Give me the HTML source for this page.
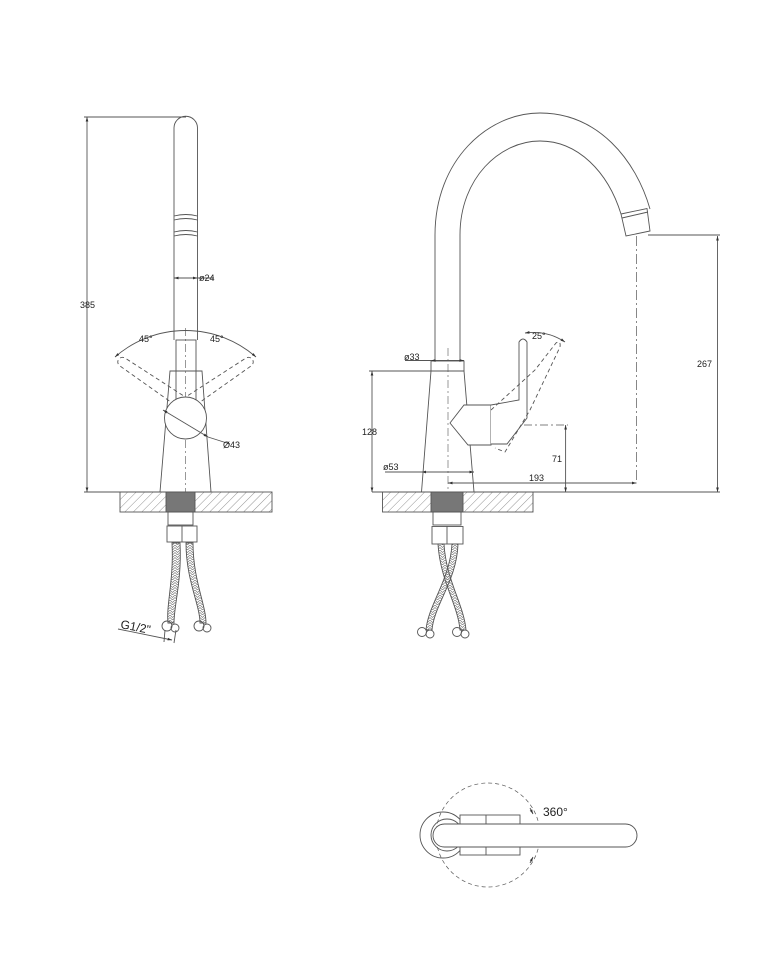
<!DOCTYPE html>
<html><head><meta charset="utf-8"><style>
html,body{margin:0;padding:0;background:#fff}
svg{display:block}
text{font-family:"Liberation Sans",sans-serif;fill:#222}
</style></head><body>
<svg width="773" height="960" viewBox="0 0 773 960" xmlns="http://www.w3.org/2000/svg">
<defs>
<pattern id="h" width="6" height="6" patternUnits="userSpaceOnUse" patternTransform="rotate(45)">
<line x1="0" y1="0" x2="0" y2="6" stroke="#777" stroke-width="0.8"/></pattern>
<pattern id="br" width="5" height="5" patternUnits="userSpaceOnUse">
<path d="M0,0 L2.5,2.5 L5,0 M0,2.5 L2.5,5 L5,2.5" stroke="#666" fill="none" stroke-width="0.6"/></pattern>
<marker id="a" viewBox="0 0 10 10" refX="10" refY="5" markerWidth="5" markerHeight="5" orient="auto-start-reverse"><path d="M0,2 L10,5 L0,8z" fill="#333"/></marker>
</defs>
<g fill="none" stroke="#555" stroke-width="0.9">
<!-- LEFT VIEW -->
<line x1="87" y1="117" x2="87" y2="492" marker-start="url(#a)" marker-end="url(#a)"/>
<line x1="84" y1="117" x2="186" y2="117"/>
<line x1="84" y1="492" x2="160" y2="492"/>
<path d="M174,340 L174,128 A11.75,11.75 0 0 1 197.5,128 L197.5,340"/>
<path d="M174,216 Q186,213 197.5,216 M174,220 Q186,217 197.5,220 M174,232 Q186,229 197.5,232 M174,236 Q186,233 197.5,236"/>
<line x1="174" y1="278" x2="197.5" y2="278" marker-start="url(#a)" marker-end="url(#a)"/>
<line x1="197.5" y1="278" x2="214" y2="278"/>
<path d="M115,357 A107,107 0 0 1 256,357" marker-start="url(#a)" marker-end="url(#a)"/>
<line x1="185.5" y1="328" x2="185.5" y2="500" stroke-dasharray="8,3,2,3" stroke-width="0.6"/>
<path d="M170,371 L202,371 L211,492 L160,492 Z"/>
<rect x="176" y="340" width="20" height="75"/>
<g stroke-dasharray="4,3">
<path d="M175,405 L120,366 A4,4 0 0 1 125,358 L190,400"/>
<path d="M196,405 L251,366 A4,4 0 0 0 246,358 L181,400"/>
</g>
<circle cx="185.5" cy="418" r="21" fill="#fff"/>
<line x1="163" y1="410" x2="208" y2="437" marker-start="url(#a)" marker-end="url(#a)"/>
<line x1="208" y1="437" x2="230" y2="444"/>
<rect x="120" y="492" width="152" height="20" fill="url(#h)"/>
<rect x="166" y="492" width="29" height="20" fill="#777"/>
<rect x="168" y="512" width="25" height="13"/>
<rect x="167" y="526" width="30" height="16"/>
<line x1="182" y1="526" x2="182" y2="542"/>
<path d="M172,543 C174,580 166,605 168,623 L174,623 C174,605 182,580 180,543Z" fill="url(#br)"/>
<path d="M186,543 C186,580 200,605 200,623 L206,623 C206,605 193,580 193,543Z" fill="url(#br)"/>
<circle cx="167" cy="626" r="5"/><circle cx="175" cy="628" r="4"/>
<circle cx="199" cy="626" r="5"/><circle cx="207" cy="628" r="4"/>
<line x1="118" y1="629" x2="172" y2="640" marker-end="url(#a)"/>
<line x1="165" y1="630" x2="164" y2="642"/><line x1="176" y1="630" x2="174" y2="643"/>
<!-- RIGHT VIEW -->
<path d="M435,361 L435,235 C435,160 488,113 540,113 C598,113 636,160 650,209"/>
<path d="M460,361 L460,235 C460,178 500,141 540,141 C578,141 608,172 621,214"/>
<path d="M621,214 L647,208.5 L650,231 L626,236 Z"/>
<line x1="622" y1="218" x2="648" y2="212"/>
<line x1="636.5" y1="236" x2="636.5" y2="483" stroke-dasharray="10,3,2,3" stroke-width="0.7"/>
<line x1="648" y1="235" x2="720" y2="235"/>
<line x1="717.5" y1="236" x2="717.5" y2="492" marker-start="url(#a)" marker-end="url(#a)"/>
<line x1="372" y1="492" x2="720" y2="492"/>
<line x1="448" y1="483" x2="636.5" y2="483" marker-start="url(#a)" marker-end="url(#a)"/>
<line x1="460" y1="425" x2="568" y2="425" stroke-dasharray="8,3,2,3" stroke-width="0.7"/>
<line x1="565.6" y1="425" x2="565.6" y2="492" marker-start="url(#a)" marker-end="url(#a)"/>
<line x1="369" y1="371" x2="431" y2="371"/>
<line x1="372" y1="371" x2="372" y2="492" marker-start="url(#a)" marker-end="url(#a)"/>
<rect x="431" y="361" width="33" height="10"/>
<line x1="405" y1="360.5" x2="431" y2="360.5"/>
<line x1="431" y1="360.5" x2="464" y2="360.5" marker-start="url(#a)" marker-end="url(#a)"/>
<line x1="385" y1="472" x2="421.5" y2="472"/>
<line x1="421.5" y1="472" x2="474" y2="472" marker-start="url(#a)" marker-end="url(#a)"/>
<path d="M431,371 L464,371 L474,492 L421.5,492 Z"/>
<line x1="448" y1="348" x2="448" y2="500" stroke-dasharray="8,3,2,3" stroke-width="0.6"/>
<path d="M450,423 L464,405 L491,405 L491,445 L468,445 Z" fill="#fff"/>
<path d="M491,405 L519,400 L519,342 Q523,336 527,342 L527,418 L507,444 L491,444" fill="#fff"/>
<g stroke-dasharray="4,3"><path d="M491,410 L535,370 L556,343 Q561,340 560,347 L530,410 L505,452 L495,448"/></g>
<path d="M525,333 Q547,330 565,342" marker-start="url(#a)" marker-end="url(#a)"/>
<rect x="382.5" y="492" width="150.5" height="20" fill="url(#h)"/>
<rect x="431" y="492" width="32" height="20" fill="#777"/>
<rect x="433" y="512" width="28" height="13"/>
<rect x="432" y="526.5" width="31" height="17.5"/>
<line x1="447" y1="526" x2="447" y2="544"/>
<path d="M438,544 C440,580 458,605 460,630 L466,630 C464,605 446,580 444,544Z" fill="url(#br)"/>
<path d="M452,544 C450,580 428,605 426,630 L432,630 C434,605 457,580 458,544Z" fill="url(#br)"/>
<circle cx="422" cy="632" r="4.5"/><circle cx="430" cy="634" r="4"/>
<circle cx="457" cy="632" r="4.5"/><circle cx="465" cy="634" r="4"/>
<!-- TOP VIEW -->
<circle cx="488" cy="835" r="52" stroke-dasharray="4,3" stroke-width="0.7"/>
<circle cx="443" cy="835" r="23"/>
<circle cx="447" cy="835" r="16"/>
<rect x="460" y="815" width="60" height="40" fill="#fff"/>
<line x1="486" y1="815" x2="486" y2="855"/>
<rect x="433" y="824" width="204" height="23" rx="11.5" fill="#fff"/>
<path d="M530,808 L533,814" marker-end="url(#a)"/>
<path d="M530,863 L533,857" marker-end="url(#a)"/>
</g>
<g font-size="9">
<text x="199" y="281">ø24</text>
<text x="80" y="308">385</text>
<text x="139" y="342">45°</text>
<text x="210" y="342">45°</text>
<text x="223" y="448">Ø43</text>
<text x="404" y="360">ø33</text>
<text x="383" y="470">ø53</text>
<text x="362" y="435">128</text>
<text x="697" y="367">267</text>
<text x="552" y="462">71</text>
<text x="529" y="481">193</text>
<text x="532" y="339">25°</text>
<text x="120" y="628" font-size="12" transform="rotate(11 120 628)">G1/2"</text>
<text x="543" y="816" font-size="12">360°</text>
</g>
</svg>
</body></html>
